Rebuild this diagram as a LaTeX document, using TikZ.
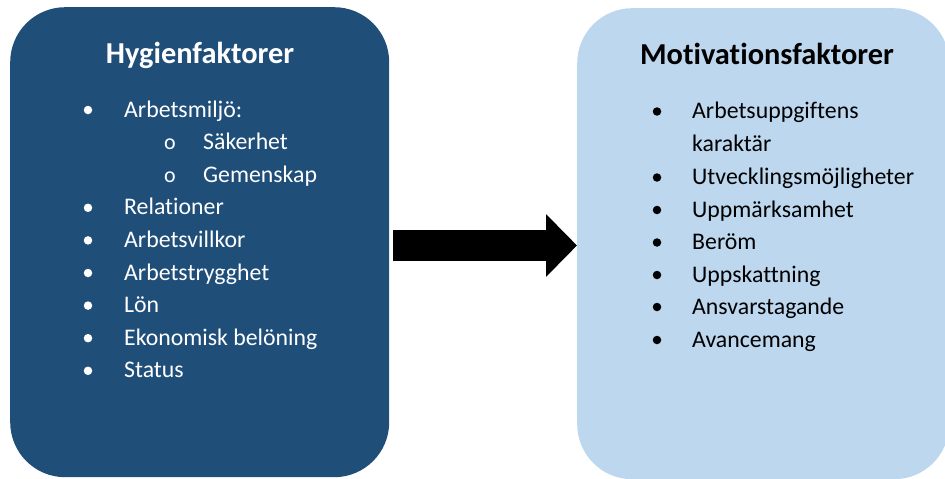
\documentclass[tikz,border=0pt]{standalone}
\usepackage{fontspec}
\setmainfont{Carlito}[Ligatures=NoCommon]
\usetikzlibrary{arrows.meta,positioning}
\definecolor{hygblue}{HTML}{1F4E79}
\definecolor{motblue}{HTML}{BDD7EE}

\begin{document}
\begin{tikzpicture}[x=1pt,y=-1pt]
		\tikzstyle{Box}		= [rounded corners=55pt, inner sep=0pt, anchor=north west]
		\tikzstyle{Title}	= [anchor=base, inner sep=0pt, font=\bfseries\fontsize{30.4}{36}\selectfont]
		\tikzstyle{Item}	= [anchor=base west, inner sep=0pt, font=\fontsize{23.8}{28}\selectfont]
		\tikzstyle{Sub}		= [anchor=base, inner sep=0pt, font=\fontsize{22}{24}\selectfont]
		\tikzstyle{Bullet}	= [circle, minimum size=8.5pt, inner sep=0pt]
		\tikzstyle{Light}	= [white]
		\tikzstyle{Dark}	= [black]

		\useasboundingbox (0,0) rectangle (945,479);

		\node (hyg) at (10,7) [Box, fill=hygblue, minimum width=379, minimum height=470]{};
		\node (mot) at (577,8) [Box, fill=motblue, minimum width=372, minimum height=471]{};

		\node (hygtitle) at (200,63) [Title][Light]{Hygienfaktorer};
		\node (mottitle) at (767,64) [Title][Dark]{Motivationsfaktorer};

		% left list
		\node (hb1) at (88,110) [Bullet, fill=white]{};
		\node (h1) at (124,117) [Item][Light]{Arbetsmiljö:};
		\node (hs1) at (170,149.6) [Sub][Light]{o};
		\node (h2) at (203,149.6) [Item][Light]{Säkerhet};
		\node (hs2) at (170,182.2) [Sub][Light]{o};
		\node (h3) at (203,182.2) [Item][Light]{Gemenskap};
		\node (hb4) at (88,207.8) [Bullet, fill=white]{};
		\node (h4) at (124,214.8) [Item][Light]{Relationer};
		\node (hb5) at (88,240.4) [Bullet, fill=white]{};
		\node (h5) at (124,247.4) [Item][Light]{Arbetsvillkor};
		\node (hb6) at (88,273) [Bullet, fill=white]{};
		\node (h6) at (124,280) [Item][Light]{Arbetstrygghet};
		\node (hb7) at (88,305.6) [Bullet, fill=white]{};
		\node (h7) at (124,312.6) [Item][Light]{Lön};
		\node (hb8) at (88,338.2) [Bullet, fill=white]{};
		\node (h8) at (124,345.2) [Item][Light]{Ekonomisk belöning};
		\node (hb9) at (88,370.8) [Bullet, fill=white]{};
		\node (h9) at (124,377.8) [Item][Light]{Status};

		% right list
		\node (mb1) at (657,111.5) [Bullet, fill=black]{};
		\node (m1) at (692,118.5) [Item][Dark]{Arbetsuppgiftens};
		\node (m1b) at (692,151.5) [Item][Dark]{karaktär};
		\node (mb2) at (657,177.5) [Bullet, fill=black]{};
		\node (m2) at (692,184.5) [Item][Dark]{Utvecklingsmöjligheter};
		\node (mb3) at (657,210) [Bullet, fill=black]{};
		\node (m3) at (692,217) [Item][Dark]{Uppmärksamhet};
		\node (mb4) at (657,242.5) [Bullet, fill=black]{};
		\node (m4) at (692,249.5) [Item][Dark]{Beröm};
		\node (mb5) at (657,275) [Bullet, fill=black]{};
		\node (m5) at (692,282) [Item][Dark]{Uppskattning};
		\node (mb6) at (657,307) [Bullet, fill=black]{};
		\node (m6) at (692,314) [Item][Dark]{Ansvarstagande};
		\node (mb7) at (657,340) [Bullet, fill=black]{};
		\node (m7) at (692,347) [Item][Dark]{Avancemang};

		\draw [line width=31pt, -{Triangle[length=31pt, width=61pt]}, shorten <=4pt] (hyg.east |- 0,245.5) -- (mot.west |- 0,245.5);
\end{tikzpicture}
\end{document}
